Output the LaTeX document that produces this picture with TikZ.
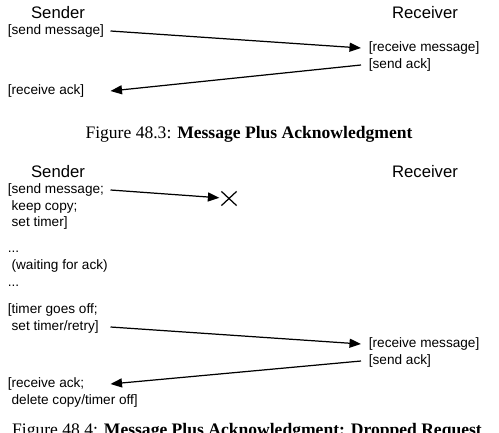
\documentclass[tikz,border=0pt]{standalone}
\usepackage{fontspec}
\setmainfont{Liberation Sans}
\newfontfamily\capfont{Liberation Serif}
\usetikzlibrary{arrows.meta,shapes.misc}
\tikzset{
  side/.style={inner sep=0pt, font=\fontsize{9.5}{11}\selectfont},
  lbl/.style={anchor=west, inner sep=0pt, font=\fontsize{7.75}{9.4}\selectfont,
              text height=5.7pt, text depth=1.6pt},
  msg/.style={-{Triangle[length=2.3mm,width=1.8mm]}, line width=0.7pt},
  capt/.style={anchor=base, inner sep=0pt, font=\capfont\fontsize{10}{12}\selectfont},
  lostmark/.style={draw, cross out, line width=0.7pt, inner sep=0pt,
              minimum width=2.8mm, minimum height=2.6mm},
}
\begin{document}
\begin{tikzpicture}[x=0.02cm,y=-0.02cm]
    \useasboundingbox (0,0) rectangle (499,432);
    \coordinate (laneL) at (110.5,0);
    \coordinate (laneR) at (361,0);
    % --- figure 48.3: message plus acknowledgment ---
    \node[side] (senderA)   at (58,13)  {Sender};
    \node[side] (receiverA) at (425,13) {Receiver};
    \node[lbl] (sendmsgA) at (7.5,31)   {[send message]};
    \node[lbl] (recvmsgA) at (368.5,48) {[receive message]};
    \node[lbl] (sendackA) at (368.5,65) {[send ack]};
    \node[lbl] (recvackA) at (7.5,91)   {[receive ack]};
    \draw[msg] (laneL |- sendmsgA) -- (laneR |- recvmsgA);
    \draw[msg] (laneR |- sendackA) -- (laneL |- recvackA);
    \node[capt] (capA) at (249,138) {Figure 48.3: \textbf{Message Plus Acknowledgment}};
    % --- figure 48.4: the request is dropped ---
    \node[side] (senderB)   at (58,172)  {Sender};
    \node[side] (receiverB) at (425,172) {Receiver};
    \node[lbl] (sendmsgB) at (7.5,190) {[send message;};
    \node[lbl] (keepB)    at (7.5,207) {\ keep copy;};
    \node[lbl] (setB)     at (7.5,223) {\ set timer]};
    \node[lbl] (dotsB)    at (7.5,249) {...};
    \node[lbl] (waitB)    at (7.5,266) {\ (waiting for ack)};
    \node[lbl] (dotsC)    at (7.5,283) {...};
    \node[lbl] (offB)     at (7.5,310) {[timer goes off;};
    \node[lbl] (retryB)   at (7.5,327) {\ set timer/retry]};
    \node[lbl] (recvmsgB) at (368.5,344) {[receive message]};
    \node[lbl] (sendackB) at (368.5,361) {[send ack]};
    \node[lbl] (recvackB) at (7.5,384) {[receive ack;};
    \node[lbl] (deleteB)  at (7.5,401) {\ delete copy/timer off]};
    \node[lostmark] (lost) at (229,198.5) {};
    \draw[msg,shorten >=0.4mm] (laneL |- sendmsgB) -- (lost);
    \draw[msg] (laneL |- retryB) -- (laneR |- recvmsgB);
    \draw[msg] (laneR |- sendackB) -- (laneL |- recvackB);
    \node[capt] (capB) at (247,435)
      {Figure 48.4: \textbf{Message Plus Acknowledgment: Dropped Request}};
\end{tikzpicture}
\end{document}
